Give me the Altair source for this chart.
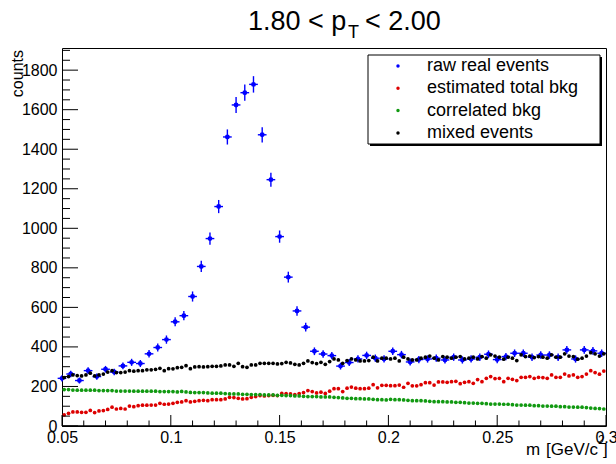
import altair as alt
import numpy as np
import pandas as pd

FONT = "Liberation Sans"

# Raw real events, 0.004 GeV/c^2 bins starting at 0.048
raw_counts = [
    241, 263, 230, 280, 250, 287, 273, 304, 322, 316, 365, 397, 437,
    527, 558, 655, 807, 948, 1110, 1462, 1624, 1686, 1728, 1473, 1246, 958,
    753, 582, 500, 378, 364, 356, 303, 321, 339, 357, 343, 339,
    378, 361, 324, 336, 339, 343, 334, 348, 334, 339, 348, 363, 336,
    351, 368, 368, 348, 359, 359, 348, 385, 339, 385, 380, 368,
]

# Background histograms, 0.002 GeV/c^2 bins starting at 0.050
mixed_events = [
    245, 250, 258, 255, 253, 258, 267, 253, 258, 263, 273, 280, 270, 270, 273, 280, 277, 280, 280, 284, 284, 287, 292, 280, 290,
    289, 295, 297, 305, 290, 299, 300, 299, 300, 302, 302, 304, 309, 309, 302, 317, 300, 297, 309, 309, 317, 317, 317, 317, 314,
    316, 322, 319, 312, 309, 317, 329, 321, 316, 322, 312, 326, 339, 334, 317, 331, 339, 334, 329, 329, 331, 348, 329, 343, 343,
    339, 343, 329, 348, 339, 334, 334, 343, 348, 354, 343, 334, 351, 348, 343, 348, 351, 339, 343, 348, 339, 351, 343, 360, 354,
    348, 338, 348, 343, 331, 360, 351, 354, 346, 351, 348, 343, 360, 348, 348, 365, 354, 351, 338, 343, 354, 371, 365, 354, 365,
]

total_bkg = [
    56, 64, 71, 71, 69, 69, 79, 68, 76, 78, 84, 95, 86, 89, 86, 101, 98, 103, 105, 105, 106, 106, 115, 110, 111,
    115, 120, 122, 128, 122, 125, 128, 130, 128, 133, 133, 133, 137, 145, 144, 140, 137, 138, 145, 149, 154, 152, 154, 155, 154,
    165, 164, 162, 159, 164, 169, 179, 174, 167, 171, 165, 176, 189, 189, 174, 191, 197, 191, 189, 189, 191, 209, 193, 206, 206,
    204, 204, 207, 196, 216, 203, 203, 209, 219, 219, 207, 223, 223, 221, 224, 226, 214, 221, 224, 216, 235, 224, 241, 250, 240,
    241, 224, 241, 236, 230, 246, 246, 250, 241, 246, 245, 241, 258, 246, 246, 263, 253, 258, 246, 250, 263, 280, 270, 262, 278,
]

correlated_bkg = [
    184, 184, 182, 181, 181, 181, 181, 181, 179, 179, 179, 179, 177, 177, 177, 177, 176, 176, 176, 176, 176, 176, 174, 174, 174,
    174, 172, 175, 172, 170, 169, 169, 169, 167, 166, 166, 166, 164, 162, 162, 162, 160, 160, 159, 159, 159, 157, 157, 157, 155,
    155, 154, 154, 152, 152, 150, 149, 149, 149, 147, 147, 147, 145, 144, 142, 140, 140, 138, 138, 137, 137, 135, 133, 133, 132,
    135, 133, 133, 132, 130, 128, 128, 128, 127, 125, 123, 123, 123, 122, 122, 120, 120, 118, 116, 116, 115, 115, 113, 111, 111,
    111, 110, 110, 108, 106, 106, 105, 105, 103, 103, 101, 101, 100, 100, 98, 98, 96, 96, 95, 95, 93, 91, 89, 88, 86,
]

series_names = ["raw real events", "estimated total bkg", "correlated bkg", "mixed events"]
series_colors = ["#0000ff", "#dd0000", "#119911", "#000000"]

y_major = [0, 200, 400, 600, 800, 1000, 1200, 1400, 1600, 1800]
y_minor = [v for v in range(50, 1901, 50) if v % 200 != 0]
x_major = [0.05, 0.1, 0.15, 0.2, 0.25, 0.3]
x_minor = [round(0.05 + 0.01 * i, 3) for i in range(26) if i % 5 != 0]

W, H = 544, 378

raw_x = 0.050 + 0.004 * np.arange(len(raw_counts))
bkg_x = 0.051 + 0.002 * np.arange(len(mixed_events))

raw = pd.DataFrame({"m": raw_x, "n": raw_counts})
raw["err"] = np.sqrt(raw["n"])
raw["lo"] = raw["n"] - raw["err"]
raw["hi"] = raw["n"] + raw["err"]
raw["xl"] = raw["m"] - 0.002
raw["xh"] = raw["m"] + 0.002

bkg = pd.DataFrame({"m": bkg_x, "mixed": mixed_events, "total": total_bkg, "corr": correlated_bkg})

xs = alt.Scale(domain=[0.05, 0.3], nice=False, zero=False)
ys = alt.Scale(domain=[0, 1912], nice=False, zero=False)
x_axis = alt.Axis(values=x_major, format=".2~f", title=None, ticks=False, domain=False, grid=False,
                  labelFontSize=16, labelFont=FONT, labelColor="black", labelPadding=3,
                  labelOverlap=False, labelBound=False, labelFlush=False)
y_axis = alt.Axis(values=y_major, format="d", title=None, ticks=False, domain=False, grid=False,
                  labelFontSize=16, labelFont=FONT, labelColor="black", labelPadding=5,
                  labelOverlap=False, labelBound=False)

# error bars and markers of the raw spectrum
err_v = alt.Chart(raw).mark_rule(color=series_colors[0], strokeWidth=1.4).encode(
    x=alt.X("m:Q", scale=xs, axis=x_axis), y=alt.Y("lo:Q", scale=ys, axis=y_axis), y2="hi:Q")
err_h = alt.Chart(raw).mark_rule(color=series_colors[0], strokeWidth=1.4).encode(
    x=alt.X("xl:Q", scale=xs, axis=x_axis), x2="xh:Q", y=alt.Y("n:Q", scale=ys, axis=y_axis))
raw_pts = alt.Chart(raw).mark_circle(color=series_colors[0], size=24, opacity=1).encode(
    x=alt.X("m:Q", scale=xs, axis=x_axis), y=alt.Y("n:Q", scale=ys, axis=y_axis))


def bkg_layer(col, color):
    return alt.Chart(bkg).mark_circle(color=color, size=14, opacity=1).encode(
        x=alt.X("m:Q", scale=xs, axis=x_axis), y=alt.Y(f"{col}:Q", scale=ys, axis=y_axis))


red_pts = bkg_layer("total", series_colors[1])
green_pts = bkg_layer("corr", series_colors[2])
black_pts = bkg_layer("mixed", series_colors[3])

# inward-pointing ticks on the left and bottom axes
ymaj = alt.Chart(pd.DataFrame({"v": y_major})).mark_rule(color="black").encode(
    y=alt.Y("v:Q", scale=ys, axis=y_axis), x=alt.value(0), x2=alt.value(16))
ymin = alt.Chart(pd.DataFrame({"v": y_minor})).mark_rule(color="black").encode(
    y=alt.Y("v:Q", scale=ys, axis=y_axis), x=alt.value(0), x2=alt.value(8))
xmaj = alt.Chart(pd.DataFrame({"v": x_major})).mark_rule(color="black").encode(
    x=alt.X("v:Q", scale=xs, axis=x_axis), y=alt.value(H), y2=alt.value(H - 11))
xmin = alt.Chart(pd.DataFrame({"v": x_minor})).mark_rule(color="black").encode(
    x=alt.X("v:Q", scale=xs, axis=x_axis), y=alt.value(H), y2=alt.value(H - 5.5))

# bottom axis line
xline = alt.Chart(pd.DataFrame({"v": [0]})).mark_rule(color="black", strokeWidth=1.6).encode(
    x=alt.value(0), x2=alt.value(W), y=alt.value(H))


def label(text, x, y, size, align="left", baseline="alphabetic", angle=0):
    return alt.Chart(pd.DataFrame({"t": [text]})).mark_text(
        font=FONT, fontSize=size, align=align, baseline=baseline, angle=angle, color="black"
    ).encode(text="t:N", x=alt.value(x), y=alt.value(y))


# title: 1.80 < p_T < 2.00
title = [
    label("1.80 < p", 186, -18, 27),
    label("T", 286, -10, 18),
    label("< 2.00", 303, -18, 27),
]

# axis titles
axis_titles = [
    label("counts", -44, 2, 16, align="right", baseline="middle", angle=270),
    label("m", 464, 407, 17),
    label("γγ", 475, 423, 12),
    label("[GeV/c", 484, 407, 17),
    label("2", 536, 396, 12),
    label("]", 541, 407, 17),
]

# legend box with a thin shadow
leg_shadow = alt.Chart(pd.DataFrame({"v": [0]})).mark_rect(color="black").encode(
    x=alt.value(308), x2=alt.value(540), y=alt.value(9), y2=alt.value(98))
leg_box = alt.Chart(pd.DataFrame({"v": [0]})).mark_rect(fill="white", stroke="black", strokeWidth=1).encode(
    x=alt.value(306), x2=alt.value(538), y=alt.value(7), y2=alt.value(96))
legend = [leg_shadow, leg_box]
for i, (name, color) in enumerate(zip(series_names, series_colors)):
    yy = 18 + i * 22.3
    legend.append(alt.Chart(pd.DataFrame({"t": [name]})).mark_circle(color=color, size=12, opacity=1).encode(
        x=alt.value(336), y=alt.value(yy)))
    legend.append(label(name, 365, yy, 18, baseline="middle"))

chart = alt.layer(
    err_v, err_h, raw_pts, red_pts, green_pts, black_pts,
    ymaj, ymin, xmaj, xmin, xline,
    *legend, *title, *axis_titles,
).properties(
    width=W, height=H,
    autosize=alt.AutoSizeParams(type="none"),
    padding={"left": 62, "top": 48, "right": 10, "bottom": 38},
    background="white",
).configure_view(stroke="black", strokeWidth=1)

chart.save("out.html", embed_options={"renderer": "svg", "actions": False})
